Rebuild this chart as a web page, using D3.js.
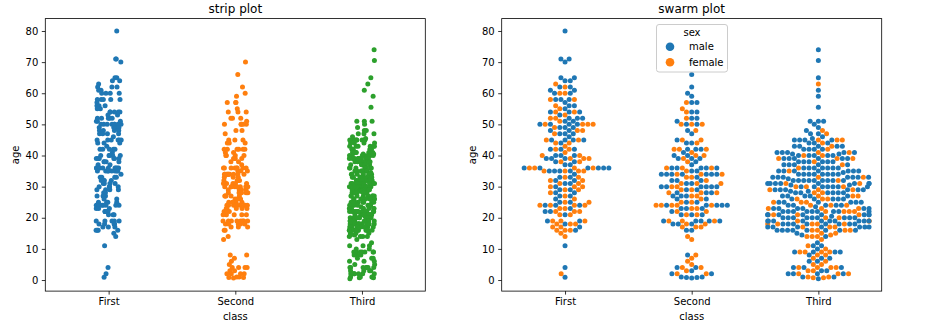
<!DOCTYPE html>
<html><head><meta charset="utf-8">
<script src="https://cdn.jsdelivr.net/npm/d3@7"></script>
<style>body{margin:0;background:#fff} svg{display:block} text{font-family:"DejaVu Sans",sans-serif}</style>
</head><body><svg id="c" width="946" height="330"></svg>
<script>
const categories = ["First", "Second", "Third"];
const sexes = ["male", "female"];
const classColors = ["#1f77b4", "#ff7f0e", "#2ca02c"];
const sexColors = ["#1f77b4", "#ff7f0e"];
const yTicks = [0, 10, 20, 30, 40, 50, 60, 70, 80];

const firstMale = [80,71,71,70,65,65,64,64,62,62,61,61,60,60,58,58,58,57,56,56,55,54,54,54,53,52,52,52,51,51,50,50,50,50,49,49,49,48,48,47,47,47,46,45,45,45,45,44,42,42,42,40,40,40,39,39,39,38,38,37,37,36,36,36,36,36,36,35,35,35,35,34,33,33,32,32,31,31,30,29,29,28,28,27,27,26,25,25,24,24,24,23,22,22,21,19,19,18,17,16,11,4,0.92];
const firstFemale = [63,62,60,60,58,58,56,55,54,54,53,52,52,51,50,50,50,50,49,48,48,47,45,45,44,44,43,42,42,41,40,40,39,39,39,38,38,36,36,36,36,35,35,35,35,33,33,32,32,31,31,30,30,30,29,29,28,27,26,25,25,24,24,24,24,23,23,22,22,22,21,21,19,19,19,18,18,18,17,17,16,16,16,15,14,2];
const secondMale = [70,66,62,60,59,57,57,54,54,52,52,51,50,50,48,47,45,44,44,42,42,42,41,40,40,39,39,39,38,37,36,36,36,36,36,35,35,34,34,34,34,34,34,34,33,32,32,32,31,31,30,30,30,30,30,30,29,29,28,28,28,27,27,27,26,26,25,25,24,24,24,24,24,23,23,23,22,21,21,21,19,19,19,19,19,18,18,18,16,16,8,4,4,3,2,2,1,1,0.83,0.83,0.67];
const secondFemale = [57,55,54,52,50,50,50,48,45,45,44,42,42,42,41,40,40,39,38,36,36,36,35,34,34,34,33,33,32,31,31,31,30,30,29,29,28,28,28,27,27,26,25,25,24,24,24,24,24,23,23,22,22,21,21,19,19,19,18,18,17,17,17,14,13,8,7,6,5,4,4,3,2,2];
const thirdMale = [74,70.5,65,61,59,55.5,51,51,51,50,49,48,47,47,46,45.5,
45,45,45,45,44,44,44,43,43,43,43,43,42,42,42,42,41,41,41,41,41,40.5,40.5,40,40,40,40,40,
39,39,39,39,39,39,38,38,38,38,38,38,37,37,37,37,37,36,36,36,36,36,36,36,35,35,35,35,35,35,35,34.5,
34,34,34,34,34,34,34,34,33,33,33,33,33,33,33,32.5,32,32,32,32,32,32,32,32,32,
31,31,31,31,31,31,31,31,30.5,30.5,30,30,30,30,30,30,30,29,29,29,29,29,29,28.5,28.5,28,28,28,28,28,28,
27,27,27,27,27,26,26,26,26,26,25,25,25,25,25,25,24,24,24,24,24,23.5,23,23,23,23,23,23,
22,22,22,22,22,22,22,22,22,21,21,21,21,21,21,21,21,20.5,20,20,20,20,20,20,20,20,20,
19,19,19,19,19,19,19,19,19,19,18,18,18,18,18,18,18,18,17,17,17,17,17,17,17,16,16,16,16,16,16,16,16,
15,14.5,14,12,11,11,10,9,9,9,9,8,7,7,6,6,4,4,4,3,3,2,2,2,2,1,1,0.42];
const thirdFemale = [63,48,47,45,45,45,44,43,42,41,41,40,40,39,39,39,38,37,36,35,33,33,32,31,31,30,30,30,29,29,29,28,28,27,27,27,26,26,26,25,25,25,24,24,24,23,23,23,22,22,22,22,21,21,21,21,20,20,19,19,19,18,18,18,18,18,17,17,17,16,16,16,16,15,15,14.5,14,14,14,13,11,10,9,9,9,9,8,8,7,6,5,5,4,4,4,4,3,3,2,2,2,1,1,0.75,0.75];

const groups = [[firstMale, firstFemale], [secondMale, secondFemale], [thirdMale, thirdFemale]];

function interleave(m, f, ci) {
  const out = []; let i = 0, j = 0;
  while (i < m.length || j < f.length) {
    if (j >= f.length || (i < m.length && (i + 0.5) / m.length <= (j + 0.5) / f.length)) out.push({cls: ci, sex: 0, age: m[i++]});
    else out.push({cls: ci, sex: 1, age: f[j++]});
  }
  return out;
}
const records = groups.map((g, ci) => interleave(g[0], g[1], ci));

const svg = d3.select("#c");
const allAges = records.flat().map(d => d.age);
const [amin, amax] = d3.extent(allAges);
const pad = (amax - amin) * 0.05;
const plotTop = 18.6, plotBottom = 291.1;
const y = d3.scaleLinear().domain([amin - pad, amax + pad]).range([plotBottom, plotTop]);
const panels = [{l: 45.3, r: 425.3, title: "strip plot"}, {l: 501.7, r: 881.7, title: "swarm plot"}];

function hash01(i) { const s = Math.sin(i * 127.1 + 311.7) * 43758.5453; return s - Math.floor(s); }
function jitter(i) { return hash01(i) * 2 - 1; }

function beeswarm(pts, d) {
  const order = pts.map((p, i) => i).sort((a, b) => (pts[a].age - pts[b].age) || (hash01(a * 7 + 3) - hash01(b * 7 + 3)));
  const swarm = []; const off = new Array(pts.length);
  for (const idx of order) {
    const u = -y(pts[idx].age);
    const nb = [];
    for (let k = swarm.length - 1; k >= 0; k--) { if (u - swarm[k].u < d) nb.push(swarm[k]); else break; }
    nb.reverse();
    const cands = [0]; let lf = true;
    for (const n of nb) {
      const dy = u - n.u; const dx = Math.sqrt(Math.max(d * d - dy * dy, 0)) * 1.05;
      if (lf) cands.push(n.x - dx, n.x + dx); else cands.push(n.x + dx, n.x - dx);
      lf = !lf;
    }
    const sorted = cands.map((c, i) => ({c, i})).sort((a, b) => (Math.abs(a.c) - Math.abs(b.c)) || (a.i - b.i)).map(o => o.c);
    let chosen = sorted[sorted.length - 1];
    for (const c of sorted) { if (nb.every(n => (n.x - c) ** 2 + (n.u - u) ** 2 >= d * d)) { chosen = c; break; } }
    swarm.push({x: chosen, u}); off[idx] = chosen;
  }
  return off;
}

panels.forEach((p, pi) => {
  const x = d3.scaleLinear().domain([-0.5, 2.5]).range([p.l, p.r]);
  const g = svg.append("g");
  const unit = x(1) - x(0);
  if (pi === 0) {
    let k = 0;
    records.forEach((recs, ci) => {
      const pts = recs.map(r => ({...r, j: jitter(k++) * 0.1}));
      g.append("g").selectAll("circle").data(pts).join("circle")
        .attr("cx", d => x(d.cls + d.j)).attr("cy", d => y(d.age)).attr("r", 2.5)
        .attr("fill", classColors[ci]);
    });
  } else {
    records.forEach((recs, ci) => {
      const off = beeswarm(recs, 5);
      const pts = recs.map((r, i) => ({...r, o: Math.max(-0.4 * unit, Math.min(0.4 * unit, off[i]))}));
      g.append("g").selectAll("circle").data(pts).join("circle")
        .attr("cx", d => x(d.cls) + d.o).attr("cy", d => y(d.age)).attr("r", 2.5)
        .attr("fill", d => sexColors[d.sex]);
    });
  }
  const ya = g.append("g").attr("transform", `translate(${p.l},0)`)
    .call(d3.axisLeft(y).tickValues(yTicks).tickSize(3.5).tickPadding(3.5));
  const xa = g.append("g").attr("transform", `translate(0,${plotBottom})`)
    .call(d3.axisBottom(x).tickValues([0, 1, 2]).tickFormat(i => categories[i]).tickSize(3.5).tickPadding(3.5));
  [ya, xa].forEach(a => {
    a.select(".domain").remove();
    a.selectAll(".tick line").attr("stroke", "#000").attr("stroke-width", 0.8);
    a.selectAll(".tick text").attr("fill", "#000").style("font-size", "10px").style("font-family", "DejaVu Sans");
  });
  g.append("rect").attr("x", p.l).attr("y", plotTop).attr("width", p.r - p.l).attr("height", plotBottom - plotTop)
    .attr("fill", "none").attr("stroke", "#000").attr("stroke-width", 0.8);
  const cx = (p.l + p.r) / 2;
  g.append("text").attr("x", cx).attr("y", 13).attr("text-anchor", "middle").style("font-size", "12px").text(p.title);
  g.append("text").attr("x", cx).attr("y", 320).attr("text-anchor", "middle").style("font-size", "10px").text("class");
  g.append("text").attr("transform", `translate(${p.l - 29.5},${(plotTop + plotBottom) / 2}) rotate(-90)`).attr("dy", "0.35em")
    .attr("text-anchor", "middle").style("font-size", "10px").text("age");
  if (pi === 1) {
    const lg = g.append("g");
    lg.append("rect").attr("x", 656.5).attr("y", 24.5).attr("width", 71).attr("height", 47.5).attr("rx", 2.5)
      .attr("fill", "#fff").attr("fill-opacity", 0.8).attr("stroke", "#cccccc").attr("stroke-width", 1);
    lg.append("text").attr("x", 692).attr("y", 35.5).attr("text-anchor", "middle").style("font-size", "10px").text("sex");
    sexes.forEach((s, i) => {
      const yy = 46.7 + i * 15.6;
      lg.append("circle").attr("cx", 670).attr("cy", yy).attr("r", 4.3).attr("fill", sexColors[i]);
      lg.append("text").attr("x", 689).attr("y", yy).attr("dy", "0.35em").style("font-size", "10px").text(s);
    });
  }
});
</script></body></html>
